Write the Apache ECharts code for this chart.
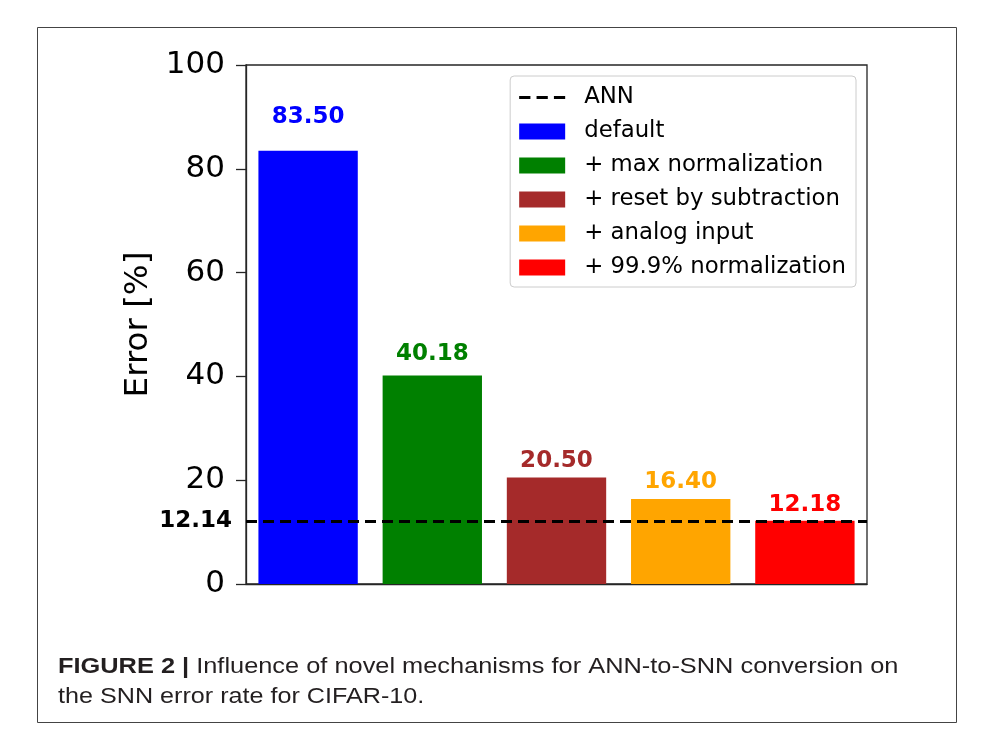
<!DOCTYPE html>
<html>
<head>
<meta charset="utf-8">
<script src="https://cdn.jsdelivr.net/npm/echarts@6/dist/echarts.min.js"></script>
<style>
html,body{margin:0;padding:0;background:#fff;}
#chart{width:990px;height:729px;}
</style>
</head>
<body>
<div id="chart"></div>
<script>
// ---- data ----
const categories = ['default', '+ max normalization', '+ reset by subtraction', '+ analog input', '+ 99.9% normalization'];
const errors = [83.50, 40.18, 20.50, 16.40, 12.18];
const annError = 12.14;
const annName = 'ANN';
const yTicks = [0, 20, 40, 60, 80, 100];
const yAxisTitle = 'Error [%]';
const captionBold = 'FIGURE 2 |';
const captionLine1 = ' Influence of novel mechanisms for ANN-to-SNN conversion on';
const captionLine2 = 'the SNN error rate for CIFAR-10.';

// ---- styles ----
const barColors = ['#0000ff', '#008000', '#a52a2a', '#ffa500', '#ff0000'];
const labelGaps = [22, 10, 5, 5, 4];
const spine = '#262626';
const dashIcon = 'path://M0,0h11v3h-11z M17,0h11v3h-11z M34,0h11v3h-11z';

const chart = echarts.init(document.getElementById('chart'));

const barSeries = categories.map((name, i) => ({
  name: name,
  type: 'bar',
  stack: 'all',
  barWidth: '80%',
  itemStyle: { color: barColors[i] },
  label: {
    show: true,
    position: 'top',
    distance: labelGaps[i],
    color: barColors[i],
    fontFamily: 'DejaVu Sans',
    fontWeight: 'bold',
    fontSize: 23,
    formatter: p => Number(p.value).toFixed(2)
  },
  data: categories.map((c, j) => (j === i ? errors[i] : '-'))
}));

const annSeries = {
  name: annName,
  type: 'line',
  symbol: 'none',
  data: [],
  lineStyle: { color: '#000', width: 3, type: [11, 6] },
  itemStyle: { color: '#000' },
  markLine: {
    silent: true,
    symbol: 'none',
    animation: false,
    lineStyle: { color: '#000', width: 3, type: [11, 6] },
    label: {
      show: true,
      position: 'start',
      distance: 14,
      color: '#000',
      fontFamily: 'DejaVu Sans',
      fontWeight: 'bold',
      fontSize: 23,
      formatter: () => annError.toFixed(2)
    },
    data: [{ yAxis: annError }]
  }
};

const captionFont = { fontFamily: 'Liberation Sans', fontSize: 21.5, fill: '#231f20' };

const option = {
  animation: false,
  backgroundColor: '#fff',
  grid: {
    left: 246, right: 123, top: 65, bottom: 145,
    show: true, borderColor: spine, borderWidth: 1.3, backgroundColor: 'transparent'
  },
  legend: {
    orient: 'vertical',
    right: 990 - 856,
    top: 76,
    data: [{ name: annName, icon: dashIcon }].concat(categories.map(c => ({ name: c, icon: 'rect' }))),
    itemWidth: 46,
    itemHeight: 16,
    itemGap: 11,
    padding: [10, 10, 8, 9],
    borderColor: '#cccccc',
    borderWidth: 1,
    borderRadius: 4,
    backgroundColor: '#fff',
    textStyle: {
      fontFamily: 'DejaVu Sans',
      fontSize: 22.8,
      color: '#000',
      padding: [0, 0, 0, 14]
    }
  },
  xAxis: {
    type: 'category',
    data: categories,
    axisLine: { show: true, lineStyle: { color: spine, width: 1.3 } },
    axisTick: { show: false },
    axisLabel: { show: false },
    splitLine: { show: false }
  },
  yAxis: {
    type: 'value',
    min: yTicks[0],
    max: yTicks[yTicks.length - 1],
    interval: yTicks[1] - yTicks[0],
    name: yAxisTitle,
    nameLocation: 'middle',
    nameGap: 83,
    nameTextStyle: { fontFamily: 'DejaVu Sans', fontSize: 32.5, color: '#000' },
    axisLine: { show: true, lineStyle: { color: spine, width: 1.3 } },
    axisTick: { show: true, length: 10, lineStyle: { color: spine, width: 1.3 } },
    axisLabel: { fontFamily: 'DejaVu Sans', fontSize: 31, color: '#000', margin: 21 },
    splitLine: { show: false }
  },
  series: barSeries.concat([annSeries]),
  graphic: [
    {
      type: 'rect',
      shape: { x: 37.5, y: 27.5, width: 919, height: 695 },
      style: { fill: 'none', stroke: '#444', lineWidth: 1 },
      silent: true
    },
    {
      type: 'text',
      x: 58, y: 667.5,
      scaleX: 1.18,
      style: {
        rich: {
          b: Object.assign({}, captionFont, { fontWeight: 'bold' }),
          n: Object.assign({}, captionFont)
        },
        text: '{b|' + captionBold + '}{n|' + captionLine1 + '}',
        verticalAlign: 'middle',
        fill: '#231f20'
      }
    },
    {
      type: 'text',
      x: 58, y: 697.5,
      scaleX: 1.17,
      style: Object.assign({ text: captionLine2, verticalAlign: 'middle' }, captionFont)
    }
  ]
};

chart.setOption(option);
</script>
</body>
</html>
